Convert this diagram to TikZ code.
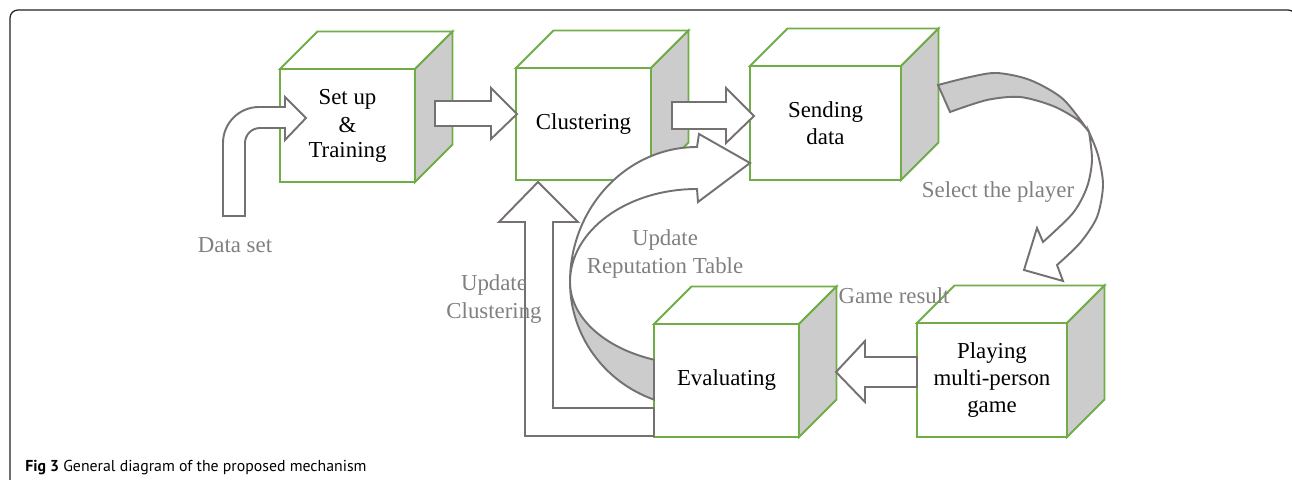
\documentclass[tikz,border=0pt]{standalone}
\usepackage{fontspec}
\setmainfont{Liberation Serif}
\newfontfamily\capfont{PT Sans}
\usepackage{tikz}
\usetikzlibrary{arrows,calc,positioning}
\definecolor{boxgreen}{RGB}{112,173,71}
\definecolor{sidegrey}{RGB}{204,204,204}
\definecolor{arrowgrey}{RGB}{118,113,113}
\definecolor{labelgrey}{RGB}{128,128,128}
\definecolor{framecol}{RGB}{35,31,32}
\tikzset{
	front/.style={draw=boxgreen, line width=1.1pt, fill=white, align=center, inner sep=0pt, outer sep=0pt, font=\fontsize{13}{15.3}\selectfont},
	face/.style={draw=boxgreen, line width=1.1pt, line join=miter},
	blockarrow/.style={draw=arrowgrey, line width=1.1pt, line join=miter},
	lbl/.style={text=labelgrey, align=center, inner sep=0pt, font=\fontsize{13}{15.8}\selectfont},
}
% top and side of a box
\newcommand{\cubefaces}[1]{%
	\draw[face, fill=white] (#1.north west) -- ([shift={(37.5,-37.5)}]#1.north west) -- ([shift={(37.5,-37.5)}]#1.north east) -- (#1.north east) -- cycle;
	\draw[face, fill=sidegrey] (#1.north east) -- ([shift={(37.5,-37.5)}]#1.north east) -- ([shift={(37.5,-37.5)}]#1.south east) -- (#1.south east) -- cycle;}

\begin{document}
\begin{tikzpicture}[x=0.02cm, y=-0.02cm]
				\useasboundingbox (0,0) rectangle (1292,480);
				\draw[draw=framecol, line width=0.7pt, rounded corners=0.16cm] (10,495) -- (10,10) -- (1296,10) -- (1296,495);
				% boxes
				\node[front, minimum width=2.7cm, minimum height=2.26cm] (setup) at (347.5,125.5) {\raisebox{-3pt}{\shortstack{Set up\\[2pt]\&\\[2pt]Training}}};
				\cubefaces{setup}
				\node[front, minimum width=2.7cm, minimum height=2.24cm] (clust) at (583.5,124) {Clustering};
				\cubefaces{clust}
				\node[front, minimum width=3.02cm, minimum height=2.28cm] (send) at (825.5,123) {Sending\\data};
				\cubefaces{send}
				\node[front, minimum width=2.9cm, minimum height=2.26cm] (eval) at (726.5,380.5) {Evaluating};
				\cubefaces{eval}
				\node[front, minimum width=3.0cm, minimum height=2.28cm] (play) at (992,380) {Playing\\multi-person\\game};
				\cubefaces{play}
				% data set arrow
				\draw[blockarrow, fill=white] (223,216) -- (223,143) arc[start angle=180, end angle=270, radius=36]
					-- (285,107) -- (285,97) -- (306,118) -- (285,140) -- (285,128) -- (260,128)
					arc[start angle=270, end angle=180, radius=15] -- (245,216) -- cycle;
				% setup -> clustering
				\draw[blockarrow, fill=white] (435,101) -- (491,101) -- (491,88) -- (517,114) -- (491,139) -- (491,126) -- (435,126) -- cycle;
				% clustering -> sending
				\draw[blockarrow, fill=white] (672,102) -- (726,102) -- (726,88) -- (754,116) -- (726,143) -- (726,129) -- (672,129) -- cycle;
				% select the player
				\draw[blockarrow, fill=sidegrey] plot[smooth] coordinates {(938,85) (970,77) (997,73) (1030,80) (1063,99) (1089,132)}
					-- plot[smooth] coordinates {(1089,132) (1078,120) (1053,106) (1020,97) (987,100) (950,112)} -- cycle;
				\draw[blockarrow, fill=white] plot[smooth] coordinates {(1089,132) (1098,155) (1103,185) (1097,217) (1080,243) (1057,265)}
					-- (1063,281) -- (1024,270) -- (1037,228)
					-- plot[smooth] coordinates {(1043,242) (1073,213) (1087,187) (1092,160) (1089,132)} -- cycle;
				% game result
				\draw[blockarrow, fill=white] (917,357) -- (865,357) -- (865,341) -- (836,372) -- (865,402) -- (865,387) -- (917,387) -- cycle;
				% update clustering
				\draw[blockarrow, fill=white] (654,436) -- (525,436) -- (525,222) -- (499,222) -- (538,182) -- (578,222) -- (553,222) -- (553,408) -- (654,408) -- cycle;
				% update reputation table
				\draw[blockarrow, fill=sidegrey] (570,282) arc[start angle=180, end angle=109.8, x radius=127, y radius=125]
					-- (654,359.7) arc[start angle=109.8, end angle=180, x radius=127, y radius=82.6] -- cycle;
				\draw[blockarrow, fill=white] (570,282) arc[start angle=180, end angle=270, x radius=127, y radius=135]
					-- (699,134) -- (750,163) -- (698,202) -- (697,189)
					arc[start angle=270, end angle=180, x radius=127, y radius=93] -- cycle;
				% labels
				\node[lbl] (dset) at (235,245) {Data set};
				\node[lbl] (selp) at (998,192) {Select the player};
				\node[lbl] (urep) at (665,254) {Update\\Reputation Table};
				\node[lbl] (uclu) at (494,299) {Update\\Clustering};
				\node[lbl] (gres) at (894,296) {Game result};
				\node[anchor=base west, inner sep=0pt, font=\capfont\fontsize{9}{11}\selectfont] (cap) at (25,471) {\textbf{Fig 3} General diagram of the proposed mechanism};
\end{tikzpicture}
\end{document}
